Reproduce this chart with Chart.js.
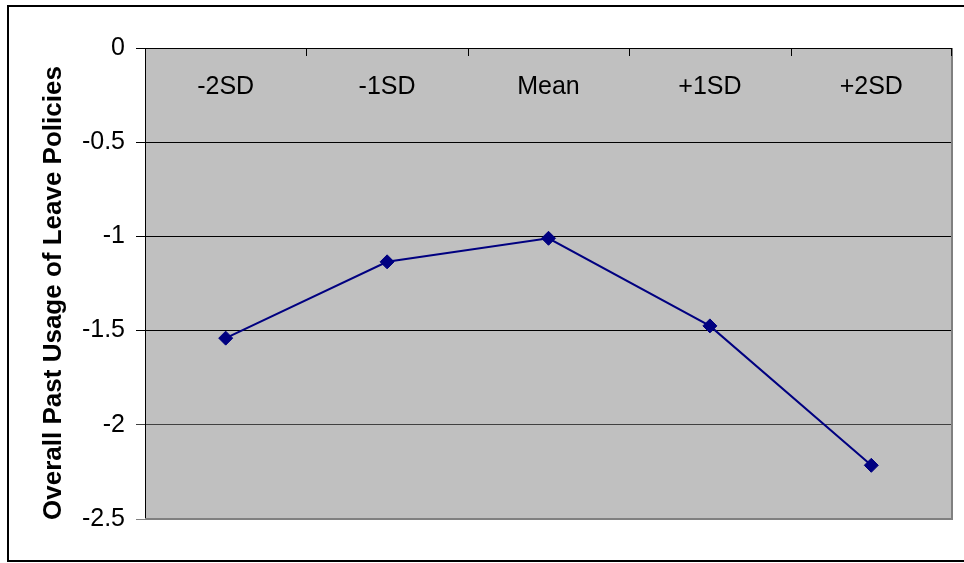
<!DOCTYPE html>
<html lang="en">
<head>
  <meta charset="UTF-8">
  <script src="https://cdn.jsdelivr.net/npm/chart.js"></script>
  <title>Overall Past Usage of Leave Policies</title>
  <style>
    body { margin: 0; background: #fff; }
    canvas { display: block; }
  </style>
</head>
<body>
  <canvas id="chart" width="964" height="563"></canvas>
  <script>
    const groups = ['-2SD', '-1SD', 'Mean', '+1SD', '+2SD']
    const usage = [-1.54, -1.135, -1.01, -1.475, -2.215]
    const yTitle = 'Overall Past Usage of Leave Policies'

    const FONT = "Arial, 'Liberation Sans', sans-serif"

    // grey plot background, frame, category labels and the rotated axis title
    const frame = {
      id: 'frame',
      beforeDraw(chart) {
        const {ctx, chartArea: a} = chart
        ctx.save()
        ctx.fillStyle = '#fff'
        ctx.fillRect(0, 0, chart.width, chart.height)
        ctx.fillStyle = '#c0c0c0'
        ctx.fillRect(a.left, a.top, a.right - a.left, a.bottom - a.top)
        ctx.restore()
      },
      beforeDatasetsDraw(chart) {
        const {ctx, chartArea: a, scales} = chart
        const x = scales.x
        ctx.save()
        // right and bottom edge of the plot
        ctx.strokeStyle = '#808080'
        ctx.lineWidth = 2
        ctx.beginPath()
        ctx.moveTo(a.right, a.top)
        ctx.lineTo(a.right, a.bottom)
        ctx.lineTo(a.left, a.bottom)
        ctx.stroke()
        // small tick marks between categories, hanging from the top axis
        ctx.strokeStyle = '#000'
        ctx.lineWidth = 1
        ctx.beginPath()
        for (let i = 0; i < groups.length - 1; i++) {
          const px = Math.round((x.getPixelForTick(i) + x.getPixelForTick(i + 1)) / 2) + 0.5
          ctx.moveTo(px, a.top)
          ctx.lineTo(px, a.top + 8)
        }
        ctx.moveTo(a.right - 0.5, a.top)
        ctx.lineTo(a.right - 0.5, a.top + 8)
        ctx.stroke()
        // category names just under the top axis line
        ctx.fillStyle = '#000'
        ctx.font = '25px ' + FONT
        ctx.textAlign = 'center'
        ctx.textBaseline = 'middle'
        groups.forEach((g, i) => ctx.fillText(g, x.getPixelForTick(i), a.top + 39))
        ctx.restore()
      },
      afterDraw(chart) {
        const {ctx} = chart
        ctx.save()
        ctx.translate(54, 293)
        ctx.rotate(-Math.PI / 2)
        ctx.fillStyle = '#000'
        ctx.font = 'bold 26px ' + FONT
        ctx.textAlign = 'center'
        ctx.textBaseline = 'middle'
        ctx.fillText(yTitle, 0, 0)
        ctx.restore()
        // outer chart border (right side runs past the canvas edge)
        ctx.save()
        ctx.strokeStyle = '#000'
        ctx.lineWidth = 2
        ctx.strokeRect(8, 6, 962, 555)
        ctx.restore()
      }
    }

    new Chart(document.getElementById('chart'), {
      type: 'line',
      data: {
        labels: groups,
        datasets: [{
          data: usage,
          borderColor: '#000080',
          borderWidth: 2,
          backgroundColor: '#000080',
          pointStyle: 'rectRot',
          pointRadius: 7,
          pointBorderWidth: 1,
          pointBorderColor: '#000080',
          tension: 0,
          clip: false
        }]
      },
      options: {
        responsive: false,
        animation: false,
        layout: { padding: { top: 48, right: 12, bottom: 44, left: 0 } },
        plugins: {
          legend: { display: false },
          tooltip: { enabled: false }
        },
        scales: {
          x: {
            type: 'category',
            offset: true,
            display: false
          },
          y: {
            min: -2.5,
            max: 0,
            afterFit(scale) { scale.width = 145 },
            ticks: {
              stepSize: 0.5,
              padding: 11,
              color: '#000',
              font: { family: FONT, size: 25 },
              callback: v => String(Math.round(v * 10) / 10)
            },
            grid: {
              color: ctx => {
                const v = ctx.tick ? ctx.tick.value : 0
                if (v === -2.5) return '#808080'
                if (v === -2) return '#404040'
                return '#000'
              },
              lineWidth: 1,
              tickLength: 9,
              drawOnChartArea: true
            },
            border: { color: '#000', width: 1 }
          }
        }
      },
      plugins: [frame]
    })
  </script>
</body>
</html>
